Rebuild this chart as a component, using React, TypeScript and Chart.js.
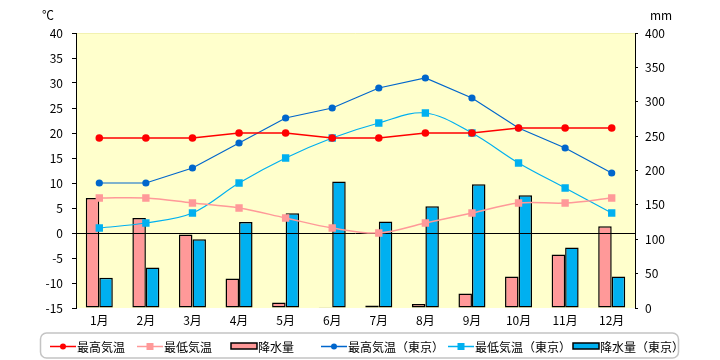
import React, { useEffect, useRef } from 'react';
import { Chart, registerables } from 'chart.js';

Chart.register(...registerables);

const months = ['1月', '2月', '3月', '4月', '5月', '6月', '7月', '8月', '9月', '10月', '11月', '12月'];
const maxTemp = [19, 19, 19, 20, 20, 19, 19, 20, 20, 21, 21, 21];
const minTemp = [7, 7, 6, 5, 3, 1, 0, 2, 4, 6, 6, 7];
const precip = [160, 131, 107, 43, 8, 1, 3.5, 6, 21, 46, 78, 119];
const maxTempTokyo = [10, 10, 13, 18, 23, 25, 29, 31, 27, 21, 17, 12];
const minTempTokyo = [1, 2, 4, 10, 15, 19, 22, 24, 20, 14, 9, 4];
const precipTokyo = [44, 59, 100, 125, 138, 184, 126, 148, 180, 164, 88, 46];
const seriesNames = ['最高気温', '最低気温', '降水量', '最高気温（東京）', '最低気温（東京）', '降水量（東京）'];
const tempAxis = { min: -15, max: 40, step: 5, unit: '℃' };
const rainAxis = { min: 0, max: 400, step: 50, unit: 'mm' };

const FONT = '"Noto Sans CJK JP", "Noto Sans", sans-serif';
const legendX = [50, 137, 231, 321, 448, 573];

const bgPlugin = {
  id: 'bg',
  beforeDraw(chart: any) {
    const { ctx, chartArea: a } = chart;
    ctx.save();
    ctx.fillStyle = '#FFFFCC';
    ctx.fillRect(a.left, a.top, a.right - a.left, a.bottom - a.top);
    ctx.strokeStyle = '#F2F2B0';
    ctx.lineWidth = 1;
    ctx.beginPath();
    ctx.moveTo(a.left, a.top + 0.5);
    ctx.lineTo(a.right, a.top + 0.5);
    ctx.stroke();
    ctx.restore();
  },
  afterDatasetDraw(chart: any, args: any) {
    if (args.index !== 2) return;
    const { ctx, chartArea: a } = chart;
    const y = Math.round(chart.scales.y.getPixelForValue(0)) + 0.5;
    ctx.save();
    ctx.strokeStyle = '#000';
    ctx.lineWidth = 1;
    ctx.beginPath();
    ctx.moveTo(a.left, y);
    ctx.lineTo(a.right, y);
    ctx.stroke();
    ctx.restore();
  },
  afterDraw(chart: any) {
    const { ctx } = chart;
    ctx.save();
    ctx.fillStyle = '#000';
    ctx.font = `12px ${FONT}`;
    ctx.textBaseline = 'middle';
    ctx.textAlign = 'center';
    ctx.fillText(tempAxis.unit, 48, 15);
    ctx.fillText(rainAxis.unit, 661, 15);

    // legend box
    ctx.strokeStyle = '#C4C4C4';
    ctx.lineWidth = 1.5;
    ctx.beginPath();
    (ctx as any).roundRect(40.5, 333, 638, 25, 6);
    ctx.stroke();

    const cy = 346;
    chart.data.datasets.forEach((ds: any, i: number) => {
      const x0 = legendX[i];
      if (ds.type === 'line') {
        ctx.strokeStyle = ds.borderColor;
        ctx.lineWidth = 1.5;
        ctx.beginPath();
        ctx.moveTo(x0, cy + 0.5);
        ctx.lineTo(x0 + 26, cy + 0.5);
        ctx.stroke();
        ctx.fillStyle = ds.pointBackgroundColor;
        if (ds.pointStyle === 'rect') {
          ctx.fillRect(x0 + 13 - 3.5, cy - 3, 7, 7);
        } else {
          ctx.beginPath();
          ctx.arc(x0 + 13, cy + 0.5, 3, 0, Math.PI * 2);
          ctx.fill();
        }
      } else {
        ctx.fillStyle = ds.backgroundColor;
        ctx.fillRect(x0, cy - 3, 26, 6);
        ctx.strokeStyle = '#000';
        ctx.lineWidth = 1.5;
        ctx.strokeRect(x0, cy - 3, 26, 6);
      }
      ctx.fillStyle = '#000';
      ctx.textAlign = 'left';
      ctx.fillText(ds.label, x0 + 27, cy + 1);
    });
    ctx.restore();
  },
};

export default function App() {
  const ref = useRef<HTMLCanvasElement | null>(null);

  useEffect(() => {
    if (!ref.current) return;
    const lineDs = (label: string, data: number[], color: string, style: string, radius: number, tension: number, width: number) => ({
      type: 'line' as const,
      label,
      data,
      yAxisID: 'y',
      borderColor: color,
      backgroundColor: color,
      pointBackgroundColor: color,
      pointBorderColor: color,
      pointBorderWidth: 0,
      pointStyle: style,
      pointRadius: radius,
      borderWidth: width,
      tension,
      order: 1,
    });
    const barDs = (label: string, data: number[], color: string) => ({
      type: 'bar' as const,
      label,
      data,
      yAxisID: 'y1',
      backgroundColor: color,
      borderColor: '#000',
      borderWidth: 1.5,
      borderSkipped: false,
      barPercentage: 1,
      categoryPercentage: 0.58,
      order: 2,
    });

    const chart = new Chart(ref.current, {
      type: 'bar',
      data: {
        labels: months,
        datasets: [
          lineDs(seriesNames[0], maxTemp, '#FF0000', 'circle', 3.8, 0, 1.5),
          lineDs(seriesNames[1], minTemp, '#FF9999', 'rect', 5.2, 0.35, 1.5),
          barDs(seriesNames[2], precip, '#FF9999'),
          lineDs(seriesNames[3], maxTempTokyo, '#0066CC', 'circle', 3.6, 0, 1.2),
          lineDs(seriesNames[4], minTempTokyo, '#00B0F0', 'rect', 5.2, 0.35, 1.2),
          barDs(seriesNames[5], precipTokyo, '#00B0F0'),
        ] as any,
      },
      options: {
        responsive: false,
        animation: false,
        devicePixelRatio: 1,
        layout: { padding: { top: 33, left: 0, right: 0, bottom: 0 } },
        plugins: { legend: { display: false }, tooltip: { enabled: false } },
        scales: {
          x: {
            offset: true,
            grid: { display: false, drawTicks: false },
            border: { display: false },
            ticks: { color: '#000', font: { family: FONT, size: 12 }, padding: 5, maxRotation: 0 },
            afterFit: (s: any) => { s.height = 52; },
          },
          y: {
            position: 'left',
            min: tempAxis.min,
            max: tempAxis.max,
            ticks: { stepSize: tempAxis.step, color: '#000', font: { family: FONT, size: 12 }, padding: 9 },
            grid: { drawOnChartArea: false, tickColor: '#000', tickLength: 4 },
            border: { color: '#000', width: 1 },
            afterFit: (s: any) => { s.width = 76; },
          },
          y1: {
            position: 'right',
            min: rainAxis.min,
            max: rainAxis.max,
            ticks: { stepSize: rainAxis.step, color: '#000', font: { family: FONT, size: 12 }, padding: 7 },
            grid: { drawOnChartArea: false, tickColor: '#000', tickLength: 3 },
            border: { color: '#000', width: 1 },
            afterFit: (s: any) => { s.width = 85; },
          },
        },
      } as any,
      plugins: [bgPlugin],
    });
    return () => chart.destroy();
  }, []);

  return (
    <div style={{ position: 'absolute', left: 0, top: 0, width: 720, height: 360, background: '#fff' }}>
      <canvas ref={ref} width={720} height={360} />
    </div>
  );
}
